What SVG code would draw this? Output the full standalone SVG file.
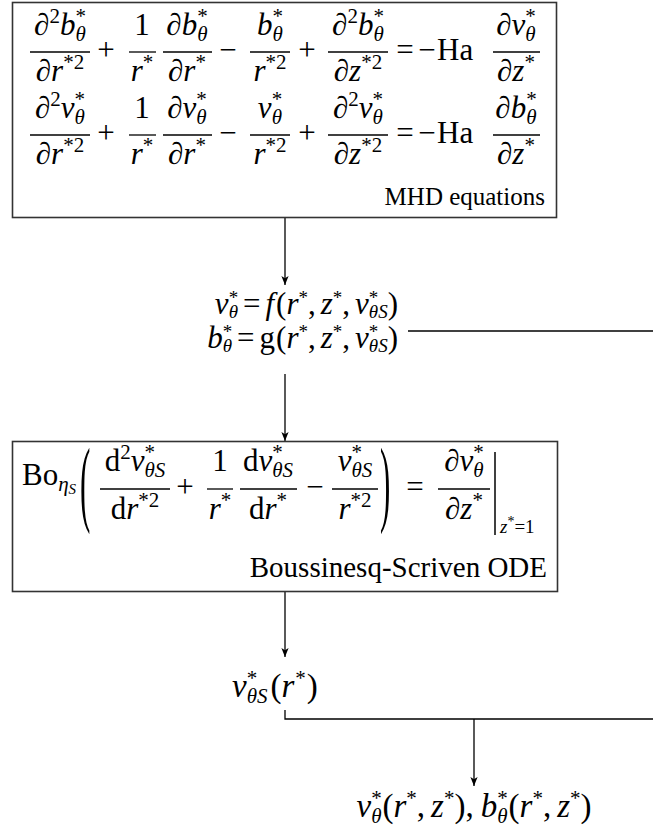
<svg xmlns="http://www.w3.org/2000/svg" width="653" height="833" viewBox="0 0 653 833">
<style>
.m{font-family:"Liberation Serif","DejaVu Serif",serif;font-size:31px;fill:#000}
.c{text-anchor:middle}
.e{text-anchor:end}
.i{font-style:italic}
.s{font-size:21px}
.s2{font-size:19px}
.ss{font-size:15px}
.lb{font-size:29px}
.bar{stroke:#000;stroke-width:1.3}
.box{fill:#fff;stroke:#333;stroke-width:1.6}
.cn{fill:none;stroke:#000;stroke-width:1.3}
</style>
<defs>
<marker id="ah" viewBox="0 0 10 8" refX="10" refY="4" markerWidth="9" markerHeight="8" orient="auto" markerUnits="userSpaceOnUse"><path d="M0,0 L10,4 L0,8 L2.5,4 z" fill="#000"/></marker>
</defs>
<rect width="653" height="833" fill="#fff"/>

<g id="connectors">
<line class="cn" x1="285" y1="218" x2="285" y2="285" marker-end="url(#ah)"/>
<line class="cn" x1="408" y1="331" x2="653" y2="331"/>
<line class="cn" x1="285" y1="374" x2="285" y2="441" marker-end="url(#ah)"/>
<line class="cn" x1="285" y1="592" x2="285" y2="657" marker-end="url(#ah)"/>
<polyline class="cn" points="285,710 285,719 653,719"/>
<line class="cn" x1="474" y1="719" x2="474" y2="786" marker-end="url(#ah)"/>
</g>

<g id="mhd">
<rect class="box" x="12.5" y="2.5" width="544" height="215"/>
<!-- row 1 -->
<text class="m c" x="60" y="35"><tspan class="i">∂</tspan><tspan class="s" dy="-12">2</tspan><tspan class="i" dy="12">b</tspan><tspan class="s" dy="-12">*</tspan><tspan class="s i" dx="-10.5" dy="18">θ</tspan></text>
<line class="bar" x1="30" y1="52" x2="90" y2="52"/>
<text class="m c" x="60" y="81"><tspan class="i">∂r</tspan><tspan class="s" dy="-12">*2</tspan></text>
<text class="m c" x="106" y="60">+</text>
<text class="m c" x="142" y="35">1</text>
<line class="bar" x1="129" y1="52" x2="156" y2="52"/>
<text class="m c" x="142" y="81"><tspan class="i">r</tspan><tspan class="s" dy="-12">*</tspan></text>
<text class="m c" x="187" y="35"><tspan class="i">∂b</tspan><tspan class="s" dy="-12">*</tspan><tspan class="s i" dx="-10.5" dy="18">θ</tspan></text>
<line class="bar" x1="163" y1="52" x2="212" y2="52"/>
<text class="m c" x="187" y="81"><tspan class="i">∂r</tspan><tspan class="s" dy="-12">*</tspan></text>
<text class="m c" x="228" y="60">−</text>
<text class="m c" x="270" y="35"><tspan class="i">b</tspan><tspan class="s" dy="-12">*</tspan><tspan class="s i" dx="-10.5" dy="18">θ</tspan></text>
<line class="bar" x1="250" y1="52" x2="290" y2="52"/>
<text class="m c" x="270" y="81"><tspan class="i">r</tspan><tspan class="s" dy="-12">*2</tspan></text>
<text class="m c" x="307" y="60">+</text>
<text class="m c" x="358" y="35"><tspan class="i">∂</tspan><tspan class="s" dy="-12">2</tspan><tspan class="i" dy="12">b</tspan><tspan class="s" dy="-12">*</tspan><tspan class="s i" dx="-10.5" dy="18">θ</tspan></text>
<line class="bar" x1="328" y1="52" x2="388" y2="52"/>
<text class="m c" x="358" y="81"><tspan class="i">∂z</tspan><tspan class="s" dy="-12">*2</tspan></text>
<text class="m c" x="405" y="60">=</text>
<text class="m c" x="427" y="60">−</text>
<text class="m" x="437" y="60">Ha</text>
<text class="m c" x="516" y="35"><tspan class="i">∂v</tspan><tspan class="s" dy="-12">*</tspan><tspan class="s i" dx="-10.5" dy="18">θ</tspan></text>
<line class="bar" x1="493" y1="52" x2="540" y2="52"/>
<text class="m c" x="516" y="81"><tspan class="i">∂z</tspan><tspan class="s" dy="-12">*</tspan></text>
<!-- row 2 -->
<text class="m c" x="60" y="118"><tspan class="i">∂</tspan><tspan class="s" dy="-12">2</tspan><tspan class="i" dy="12">v</tspan><tspan class="s" dy="-12">*</tspan><tspan class="s i" dx="-10.5" dy="18">θ</tspan></text>
<line class="bar" x1="30" y1="135" x2="90" y2="135"/>
<text class="m c" x="60" y="164"><tspan class="i">∂r</tspan><tspan class="s" dy="-12">*2</tspan></text>
<text class="m c" x="106" y="143">+</text>
<text class="m c" x="142" y="118">1</text>
<line class="bar" x1="129" y1="135" x2="156" y2="135"/>
<text class="m c" x="142" y="164"><tspan class="i">r</tspan><tspan class="s" dy="-12">*</tspan></text>
<text class="m c" x="187" y="118"><tspan class="i">∂v</tspan><tspan class="s" dy="-12">*</tspan><tspan class="s i" dx="-10.5" dy="18">θ</tspan></text>
<line class="bar" x1="163" y1="135" x2="212" y2="135"/>
<text class="m c" x="187" y="164"><tspan class="i">∂r</tspan><tspan class="s" dy="-12">*</tspan></text>
<text class="m c" x="228" y="143">−</text>
<text class="m c" x="270" y="118"><tspan class="i">v</tspan><tspan class="s" dy="-12">*</tspan><tspan class="s i" dx="-10.5" dy="18">θ</tspan></text>
<line class="bar" x1="250" y1="135" x2="290" y2="135"/>
<text class="m c" x="270" y="164"><tspan class="i">r</tspan><tspan class="s" dy="-12">*2</tspan></text>
<text class="m c" x="307" y="143">+</text>
<text class="m c" x="358" y="118"><tspan class="i">∂</tspan><tspan class="s" dy="-12">2</tspan><tspan class="i" dy="12">v</tspan><tspan class="s" dy="-12">*</tspan><tspan class="s i" dx="-10.5" dy="18">θ</tspan></text>
<line class="bar" x1="328" y1="135" x2="388" y2="135"/>
<text class="m c" x="358" y="164"><tspan class="i">∂z</tspan><tspan class="s" dy="-12">*2</tspan></text>
<text class="m c" x="405" y="143">=</text>
<text class="m c" x="427" y="143">−</text>
<text class="m" x="437" y="143">Ha</text>
<text class="m c" x="516" y="118"><tspan class="i">∂b</tspan><tspan class="s" dy="-12">*</tspan><tspan class="s i" dx="-10.5" dy="18">θ</tspan></text>
<line class="bar" x1="493" y1="135" x2="540" y2="135"/>
<text class="m c" x="516" y="164"><tspan class="i">∂z</tspan><tspan class="s" dy="-12">*</tspan></text>
<text class="m e" x="545" y="205" style="font-size:25px">MHD equations</text>
</g>

<g id="fg">
<text class="m e" x="398" y="314"><tspan class="i">v</tspan><tspan class="s2" dy="-10">*</tspan><tspan class="s2 i" dx="-9.5" dy="14">θ</tspan><tspan dx="5" dy="-4">=</tspan><tspan class="i" dx="5">f</tspan><tspan dx="2">(</tspan><tspan class="i">r</tspan><tspan class="s2" dy="-10">*</tspan><tspan dy="10">,</tspan><tspan class="i" dx="5">z</tspan><tspan class="s2" dy="-10">*</tspan><tspan dy="10">,</tspan><tspan class="i" dx="5">v</tspan><tspan class="s2" dy="-10">*</tspan><tspan class="s2 i" dx="-9.5" dy="14">θS</tspan><tspan dy="-4">)</tspan></text>
<text class="m e" x="398" y="348"><tspan class="i">b</tspan><tspan class="s2" dy="-10">*</tspan><tspan class="s2 i" dx="-9.5" dy="14">θ</tspan><tspan dx="5" dy="-4">=</tspan><tspan dx="5">g</tspan><tspan dx="1">(</tspan><tspan class="i">r</tspan><tspan class="s2" dy="-10">*</tspan><tspan dy="10">,</tspan><tspan class="i" dx="5">z</tspan><tspan class="s2" dy="-10">*</tspan><tspan dy="10">,</tspan><tspan class="i" dx="5">v</tspan><tspan class="s2" dy="-10">*</tspan><tspan class="s2 i" dx="-9.5" dy="14">θS</tspan><tspan dy="-4">)</tspan></text>
</g>

<g id="bs">
<rect class="box" x="12.5" y="441.5" width="545" height="150"/>
<text class="m" x="22" y="485">Bo<tspan class="s i" dy="6">η</tspan><tspan class="ss i" dy="3">S</tspan></text>
<text class="m" transform="translate(80,514) scale(1,3.1)">(</text>
<text class="m c" x="135" y="471">d<tspan class="s" dy="-12">2</tspan><tspan class="i" dy="12">v</tspan><tspan class="s" dy="-12">*</tspan><tspan class="s i" dx="-10.5" dy="18">θS</tspan></text>
<line class="bar" x1="100" y1="489" x2="170" y2="489"/>
<text class="m c" x="135" y="519">d<tspan class="i">r</tspan><tspan class="s" dy="-12">*2</tspan></text>
<text class="m c" x="185" y="497">+</text>
<text class="m c" x="220" y="471">1</text>
<line class="bar" x1="207" y1="489" x2="233" y2="489"/>
<text class="m c" x="220" y="519"><tspan class="i">r</tspan><tspan class="s" dy="-12">*</tspan></text>
<text class="m c" x="268" y="471">d<tspan class="i">v</tspan><tspan class="s" dy="-12">*</tspan><tspan class="s i" dx="-10.5" dy="18">θS</tspan></text>
<line class="bar" x1="240" y1="489" x2="297" y2="489"/>
<text class="m c" x="268" y="519">d<tspan class="i">r</tspan><tspan class="s" dy="-12">*</tspan></text>
<text class="m c" x="315" y="497">−</text>
<text class="m c" x="355" y="471"><tspan class="i">v</tspan><tspan class="s" dy="-12">*</tspan><tspan class="s i" dx="-10.5" dy="18">θS</tspan></text>
<line class="bar" x1="332" y1="489" x2="378" y2="489"/>
<text class="m c" x="355" y="519"><tspan class="i">r</tspan><tspan class="s" dy="-12">*2</tspan></text>
<text class="m" transform="translate(380,514) scale(1,3.1)">)</text>
<text class="m c" x="415" y="497">=</text>
<text class="m c" x="464" y="471"><tspan class="i">∂v</tspan><tspan class="s" dy="-12">*</tspan><tspan class="s i" dx="-10.5" dy="18">θ</tspan></text>
<line class="bar" x1="438" y1="489" x2="490" y2="489"/>
<text class="m c" x="464" y="519"><tspan class="i">∂z</tspan><tspan class="s" dy="-12">*</tspan></text>
<line class="bar" x1="495" y1="452" x2="495" y2="535" style="stroke-width:1.5"/>
<text class="m" x="500" y="533" style="font-size:19px"><tspan class="i">z</tspan><tspan style="font-size:14px" dy="-7">*</tspan><tspan dy="7">=1</tspan></text>
<text class="m e lb" x="547" y="577">Boussinesq-Scriven ODE</text>
</g>

<g id="vs">
<text class="m" x="232" y="697" style="font-size:33px"><tspan class="i">v</tspan><tspan class="s" dy="-12">*</tspan><tspan class="s i" dx="-10.5" dy="18">θS</tspan><tspan dx="3" dy="-6">(</tspan><tspan class="i">r</tspan><tspan class="s" dy="-12" dx="1">*</tspan><tspan dy="12" dx="1">)</tspan></text>
</g>

<g id="result">
<text class="m c" x="474" y="817" style="font-size:33px"><tspan class="i">v</tspan><tspan class="s" dy="-12">*</tspan><tspan class="s i" dx="-10.5" dy="18">θ</tspan><tspan dx="1" dy="-6">(</tspan><tspan class="i">r</tspan><tspan class="s" dy="-12">*</tspan><tspan dy="12">,</tspan><tspan class="i" dx="6">z</tspan><tspan class="s" dy="-12">*</tspan><tspan dy="12">),</tspan><tspan class="i" dx="7">b</tspan><tspan class="s" dy="-12">*</tspan><tspan class="s i" dx="-10.5" dy="18">θ</tspan><tspan dx="1" dy="-6">(</tspan><tspan class="i">r</tspan><tspan class="s" dy="-12">*</tspan><tspan dy="12">,</tspan><tspan class="i" dx="6">z</tspan><tspan class="s" dy="-12">*</tspan><tspan dy="12">)</tspan></text>
</g>
</svg>
